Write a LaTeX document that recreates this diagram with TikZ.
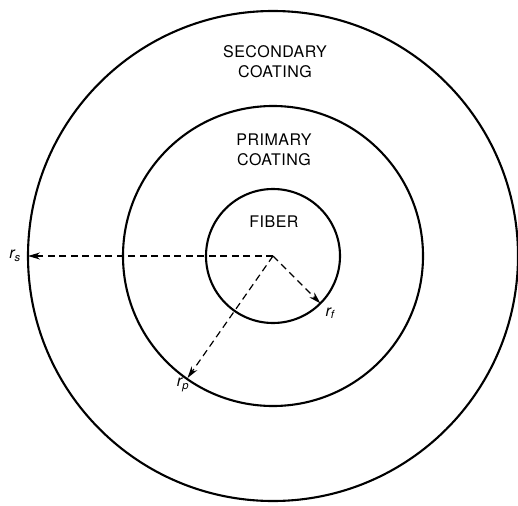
\documentclass[tikz,border=0pt]{standalone}
\usepackage{fontspec}
\setmainfont{TeX Gyre Heros}
\usetikzlibrary{arrows.meta}
\begin{document}
\begin{tikzpicture}[x=1pt,y=-1pt,
  ring/.style={line width=2.1pt},
  radius line/.style={dashed, dash pattern=on 7pt off 4.5pt, line width=1.2pt, -{Stealth[length=12pt,width=7pt]}},
  lbl/.style={font=\fontsize{16}{19}\selectfont\addfontfeature{LetterSpace=3}, align=center, inner sep=0pt},
  rlbl/.style={font=\fontsize{16}{18}\selectfont\itshape, inner sep=0pt}]
\useasboundingbox (0,0) rectangle (518,505);
\coordinate (c) at (273,256);
\draw[ring] (c) circle[radius=245];
\draw[ring] (c) circle[radius=150];
\draw[ring] (c) circle[radius=67];
\path (c) +(180:245) coordinate (s);
\path (c) +(45:67) coordinate (f);
\path (c) +(125:149) coordinate (p);
\draw[radius line] (c) -- (s);
\draw[radius line] (c) -- (f);
\draw[radius line] (c) -- (p);
\node[lbl] (sec) at (275,62) {SECONDARY\\[1pt]COATING};
\node[lbl] (pri) at (274,150) {PRIMARY\\[1pt]COATING};
\node[lbl] (fib) at (274,222) {FIBER};
\node[rlbl] (rs) at (15,256) {r\textsubscript{s}};
\node[rlbl] (rf) at (330,313) {r\textsubscript{f}};
\node[rlbl] (rp) at (183,385) {r\textsubscript{p}};
\end{tikzpicture}
\end{document}
